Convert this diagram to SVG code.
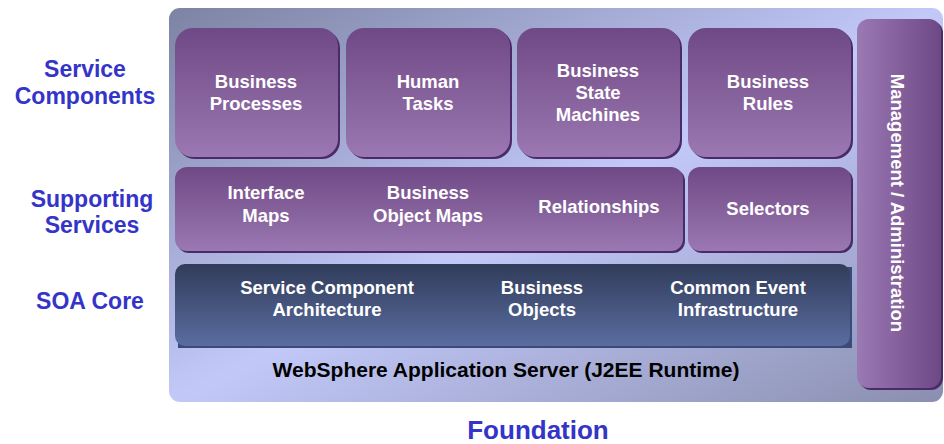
<svg xmlns="http://www.w3.org/2000/svg" width="944" height="444" viewBox="0 0 944 444">
<defs>
<linearGradient id="bg" x1="0" y1="0" x2="1" y2="1">
<stop offset="0" stop-color="#7c83a3"/>
<stop offset="0.5" stop-color="#c2c8f8"/>
<stop offset="1" stop-color="#8a8fb0"/>
</linearGradient>
<linearGradient id="purp" x1="0" y1="0" x2="0" y2="1">
<stop offset="0" stop-color="#6f4985"/>
<stop offset="1" stop-color="#9b78b2"/>
</linearGradient>
<linearGradient id="mgmt" x1="0" y1="0" x2="1" y2="0">
<stop offset="0" stop-color="#9b79b3"/>
<stop offset="1" stop-color="#6d4885"/>
</linearGradient>
<linearGradient id="soa" x1="0" y1="0" x2="0" y2="1">
<stop offset="0" stop-color="#313c5a"/>
<stop offset="1" stop-color="#5a6da0"/>
</linearGradient>
</defs>
<style>
.t{font-family:"Liberation Sans",Arial,sans-serif;font-weight:bold;font-size:18.5px;fill:#ffffff;text-anchor:middle}
.lab{font-family:"Liberation Sans",Arial,sans-serif;font-weight:bold;font-size:23px;fill:#3434c8;text-anchor:middle}
.sh{fill:#4a2a68}
.box{fill:url(#purp)}
</style>
<rect x="169" y="8" width="774" height="394" rx="11" fill="url(#bg)"/>
<g id="labels">
<text class="lab" x="85" y="77">Service</text>
<text class="lab" x="85" y="104">Components</text>
<text class="lab" x="92" y="207">Supporting</text>
<text class="lab" x="92" y="233">Services</text>
<text class="lab" x="90" y="309">SOA Core</text>
<text class="lab" x="538" y="439" style="font-size:26px">Foundation</text>
</g>
<g id="business-processes">
<rect class="sh" x="177" y="30" width="163" height="129" rx="18"/>
<rect class="box" x="175" y="28" width="163" height="129" rx="18"/>
<text class="t" x="256" y="88">Business</text>
<text class="t" x="256" y="110">Processes</text>
</g>
<g id="human-tasks">
<rect class="sh" x="348" y="30" width="164" height="129" rx="18"/>
<rect class="box" x="346" y="28" width="164" height="129" rx="18"/>
<text class="t" x="428" y="88">Human</text>
<text class="t" x="428" y="110">Tasks</text>
</g>
<g id="business-state-machines">
<rect class="sh" x="519" y="30" width="163" height="129" rx="18"/>
<rect class="box" x="517" y="28" width="163" height="129" rx="18"/>
<text class="t" x="598" y="77">Business</text>
<text class="t" x="598" y="99">State</text>
<text class="t" x="598" y="121">Machines</text>
</g>
<g id="business-rules">
<rect class="sh" x="690" y="30" width="163" height="129" rx="18"/>
<rect class="box" x="688" y="28" width="163" height="129" rx="18"/>
<text class="t" x="768" y="88">Business</text>
<text class="t" x="768" y="110">Rules</text>
</g>
<g id="supporting-services">
<rect class="sh" x="177" y="169" width="508" height="84" rx="12"/>
<rect class="box" x="175" y="167" width="508" height="84" rx="12"/>
<text class="t" x="266" y="199">Interface</text>
<text class="t" x="266" y="222">Maps</text>
<text class="t" x="428" y="199">Business</text>
<text class="t" x="428" y="222">Object Maps</text>
<text class="t" x="599" y="213">Relationships</text>
</g>
<g id="selectors">
<rect class="sh" x="690" y="169" width="163" height="84" rx="12"/>
<rect class="box" x="688" y="167" width="163" height="84" rx="12"/>
<text class="t" x="768" y="215">Selectors</text>
</g>
<g id="soa-core">
<rect x="178" y="267" width="674" height="81" fill="#3a4a7a"/>
<rect x="175" y="264" width="675" height="82" rx="10" fill="url(#soa)"/>
<text class="t" x="327" y="294">Service Component</text>
<text class="t" x="327" y="316">Architecture</text>
<text class="t" x="542" y="294">Business</text>
<text class="t" x="542" y="316">Objects</text>
<text class="t" x="738" y="294">Common Event</text>
<text class="t" x="738" y="316">Infrastructure</text>
</g>
<g id="websphere">
<text x="506" y="377" style="font-family:'Liberation Sans',Arial,sans-serif;font-weight:bold;font-size:21px;fill:#000000;text-anchor:middle">WebSphere Application Server (J2EE Runtime)</text>
</g>
<g id="management">
<rect x="859" y="21" width="84" height="369" rx="12" fill="#4a2a68"/>
<rect x="857" y="19" width="84" height="369" rx="12" fill="url(#mgmt)"/>
<text class="t" transform="translate(891,203) rotate(90)" x="0" y="0">Management / Administration</text>
</g>
<g id="connectors"/>
</svg>
